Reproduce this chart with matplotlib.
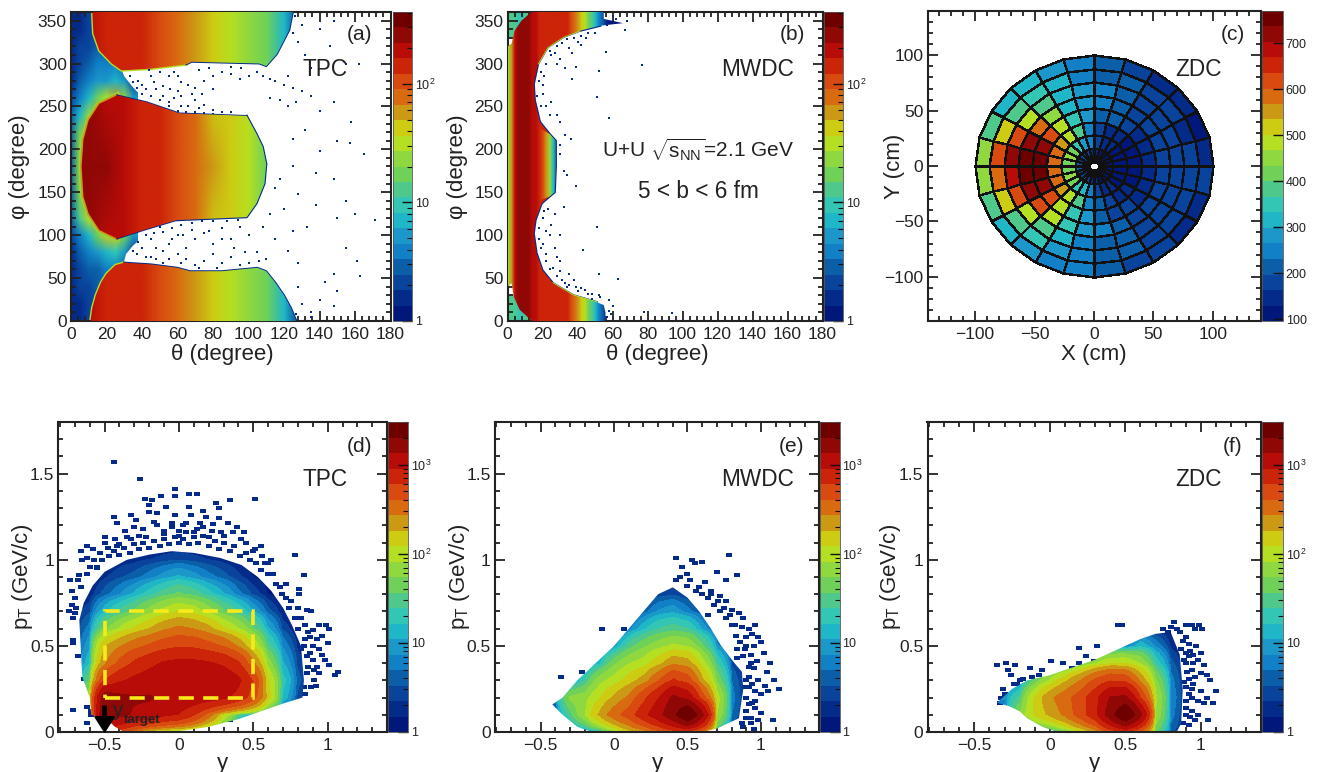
import numpy as np
import matplotlib
matplotlib.use("Agg")
import matplotlib.pyplot as plt
from matplotlib.colors import ListedColormap, LogNorm, Normalize
from matplotlib.patches import Polygon, Rectangle
from matplotlib.ticker import MultipleLocator, FuncFormatter, FixedLocator

plt.rcParams['font.family'] = ['Liberation Sans', 'DejaVu Sans']
plt.rcParams['mathtext.fontset'] = 'custom'
plt.rcParams['mathtext.rm'] = 'Liberation Sans'
plt.rcParams['mathtext.it'] = 'Liberation Sans:italic'
plt.rcParams['mathtext.bf'] = 'Liberation Sans:bold'
plt.rcParams['mathtext.default'] = 'regular'

W, H = 1317, 772

# palette, bottom to top of the colour bars
levels = ['#02177a', '#042a8a', '#0a439c', '#0b5fa8', '#1180c6', '#1b97c9', '#1fb6c8', '#33c6b4',
          '#4fc98b', '#6fd158', '#8fd83f', '#b5df22', '#cdcc12', '#cc9915', '#d86a10', '#d84a10',
          '#cc2408', '#b80c08', '#900806', '#6e0000']

# ---- panel (a) TPC theta-phi ----
a_theta = [0, 10, 20, 30, 40, 50, 60, 70, 80, 90, 100, 110, 120, 130]
a_mid_vals = [[240, 240, 215, 185, 150, 125, 100, 70, 48, 38, 30, 18, 5, 1],
              [265, 265, 230, 195, 155, 130, 100, 72, 50, 38, 30, 18, 5, 1],
              [240, 240, 215, 185, 150, 125, 100, 70, 48, 38, 30, 18, 5, 1]]
a_mid_phi = [96, 180, 264]
a_side_vals = [[170, 170, 160, 150, 130, 110, 88, 62, 46, 34, 27, 18, 7, 1.5],
               [170, 170, 160, 150, 130, 110, 88, 62, 46, 34, 27, 18, 7, 1.5]]
a_side_phi = [0, 360]
a_bot_th = [11, 12, 14, 17, 20, 25, 30, 45, 60, 67, 85, 105, 110, 115, 120, 124, 127]
a_bot_ph = [0, 15, 30, 45, 55, 65, 68, 66, 62, 58, 58, 62, 58, 45, 30, 15, 0]
a_top_th = [12, 12.6, 16, 23, 28.5, 45, 65, 68, 106, 110, 116, 123, 125]
a_top_ph = [360, 335, 315, 300, 292, 294, 299, 302, 300, 297, 311, 339, 360]
a_mid_th = [26, 16, 10, 7, 6, 7, 10, 16, 26, 41, 59.5, 99, 104.5, 109, 110, 108, 104.5, 99, 61, 42.6]
a_mid_ph = [263, 253, 234, 211, 180, 145, 125, 106, 96, 106, 117.5, 121, 137, 160, 183, 203, 218, 239, 242, 255]
a_halo_th = [0, 5, 10, 15, 20, 25, 30, 35]
a_halo_ph = list(range(0, 380, 20))
a_halo_vals = [[1.6, 1.8, 2, 2, 2, 2, 1, 1],
               [1.6, 1.8, 2, 2, 2, 2, 1, 1],
               [1.6, 2, 2.2, 2.5, 2.5, 2, 1.5, 1],
               [1.6, 2.2, 2.8, 3.2, 3.5, 3.5, 2.5, 1.2],
               [1.8, 2.6, 3.5, 5, 7, 9, 6, 2],
               [2, 4, 8, 18, 40, 40, 18, 5],
               [2.5, 12, 30, 50, 50, 50, 30, 6],
               [3, 18, 50, 50, 50, 50, 30, 6],
               [3, 25, 50, 50, 50, 50, 30, 6],
               [3.2, 25, 50, 50, 50, 50, 30, 6],
               [3, 22, 50, 50, 50, 50, 30, 6],
               [3, 16, 50, 50, 50, 50, 30, 6],
               [2.5, 8, 25, 50, 50, 50, 30, 6],
               [2, 4, 7, 15, 35, 60, 22, 5],
               [1.8, 2.6, 3.5, 5, 6, 8, 6, 2],
               [1.6, 2.2, 2.8, 3.5, 4, 3.5, 2.5, 1.2],
               [1.6, 2, 2.2, 2.5, 2.5, 2, 1.5, 1],
               [1.6, 1.8, 2, 2, 2, 2, 1, 1],
               [1.6, 1.8, 2, 2, 2, 2, 1, 1]]
a_halo_x = [0, 14, 20, 30, 31, 35, 43, 43, 35, 30, 28, 14, 0]
a_halo_y = [0, 0, 50, 70, 78, 88, 102, 255, 272, 285, 295, 360, 360]
a_dots = [(38, 280), (40, 275), (42, 270), (45, 285), (48, 270), (52, 262), (55, 255), (58, 260), (60, 268), (62, 250),
          (66, 250), (70, 258), (72, 248), (75, 252), (80, 246), (85, 244), (90, 243), (60, 285), (62, 278), (66, 275),
          (70, 272), (75, 280), (80, 285), (85, 290), (90, 288), (95, 282), (100, 285), (105, 290), (108, 285),
          (112, 282), (115, 280), (120, 275), (125, 272), (130, 268), (112, 260), (118, 257), (122, 250), (127, 255),
          (135, 262), (140, 245), (148, 255), (158, 232), (132, 222), (125, 212), (140, 198), (150, 210), (157, 207),
          (165, 195), (138, 173), (125, 180), (118, 165), (115, 155), (148, 165), (155, 140), (160, 125), (171, 118),
          (150, 120), (138, 135), (128, 148), (120, 130), (112, 125), (108, 110), (100, 100), (95, 110), (90, 95),
          (85, 108), (80, 90), (75, 103), (70, 95), (65, 85), (60, 100), (55, 90), (50, 110), (45, 95), (40, 85),
          (37, 78), (42, 75), (48, 72), (55, 72), (60, 78), (65, 72), (70, 65), (75, 70), (80, 78), (85, 68), (90, 75),
          (95, 65), (105, 80), (110, 72), (115, 95), (122, 82), (125, 105), (133, 110), (128, 68), (148, 55), (163, 53),
          (155, 85), (161, 70), (128, 40), (130, 20), (135, 10), (140, 25), (148, 18), (150, 35), (143, 45), (127, 8),
          (135, 5), (126, 355), (130, 345), (125, 335), (128, 325), (132, 310), (135, 295), (140, 340), (148, 350),
          (146, 320), (155, 300), (162, 300), (122, 285), (33, 285), (35, 278), (37, 272), (40, 265), (45, 262),
          (50, 258), (55, 250), (60, 245), (65, 244), (70, 243), (75, 242), (80, 241), (47, 278), (52, 274), (56, 270),
          (62, 262), (68, 264), (74, 265), (80, 270), (55, 285), (58, 290), (50, 290), (44, 292), (72, 292), (78, 295),
          (90, 296), (96, 295), (35, 82), (38, 92), (42, 100), (47, 102), (52, 104), (57, 108), (62, 112), (68, 114),
          (74, 116), (80, 116), (88, 117), (94, 118), (48, 85), (52, 82), (57, 95), (63, 100), (68, 106), (78, 105),
          (85, 95), (92, 85), (98, 80), (45, 75), (52, 68), (62, 68), (72, 62), (82, 62), (100, 68), (106, 70)]

# ---- panel (b) MWDC theta-phi ----
b_band_th = [0, 2, 4, 6, 8, 10, 12, 14, 16]
b_band_vals = [[14, 14, 12, 11, 11, 12, 14, 16, 18], [14, 14, 12, 11, 11, 12, 14, 16, 18]]
b_band_ph = [0, 360]
b_main_th = list(range(0, 70, 2))
b_main_row = [25, 55, 170, 225, 250, 260, 245, 215, 185, 160, 150, 140, 135, 130, 130, 130, 130, 125, 115, 85,
              60, 42, 28, 20, 12, 7, 4, 2.5, 1.5, 1.2, 1, 1, 1, 1, 1]
b_out_th = [14, 56, 56, 55, 51, 37.5, 26, 20, 16.6, 15, 16, 19.5, 24, 27, 27.6, 27.6, 24, 18.5, 15.6, 15, 17.5, 23,
            32, 41, 53, 66, 55, 55, 13.7, 8, 4, 2.3, 0, 0, 2.3, 3.6, 7]
b_out_ph = [0, 0, 10, 18.6, 22, 30, 44, 59, 79, 102, 117.5, 137, 145, 150, 180, 210, 218, 232, 257, 276, 300, 319,
            331, 338, 344, 347, 352, 360, 360, 350, 338, 323, 320, 40, 44, 28, 13]
b_notch_th = [16, 18, 20, 22, 24, 26, 28]
b_notch_vals = [[130, 130, 120, 60, 25, 8, 2], [130, 130, 120, 60, 25, 8, 2]]
b_notch_ph = [140, 225]
b_notch_x = [18, 24, 27, 27.6, 27.6, 24, 18]
b_notch_y = [140, 145, 150, 180, 210, 218, 225]
b_dots = [(77, 298), (52, 291), (51, 261), (58, 236), (37, 282), (39, 296), (30, 305), (33, 295), (28, 300), (25, 310),
          (28, 320), (35, 318), (40, 325), (45, 330), (37, 312), (42, 322), (50, 335), (57, 345), (67, 339), (56, 313),
          (20, 275), (18, 280), (20, 265), (22, 250), (25, 255), (24, 240), (28, 240), (30, 232), (33, 217), (36, 212),
          (30, 205), (32, 175), (34, 170), (30, 195), (39, 157), (32, 133), (23, 130), (20, 120), (24, 100), (22, 105),
          (27, 125), (25, 112), (43, 83), (51, 110), (30, 100), (20, 90), (22, 78), (28, 75), (26, 62), (30, 58),
          (35, 55), (38, 48), (34, 40), (42, 38), (46, 32), (52, 30), (58, 25), (40, 35), (52, 55), (63, 49), (78, 10),
          (94, 9), (60, 18), (58, 12), (59, 8), (57, 5), (60, 355), (62, 352), (68, 349), (30, 70), (27, 85), (35, 30),
          (33, 44), (44, 24), (48, 26), (24, 315), (27, 312), (31, 324), (34, 328), (38, 330), (42, 332), (46, 336),
          (22, 300), (19, 290), (21, 285), (17, 262), (19, 250), (22, 70), (24, 60), (28, 52), (31, 48), (35, 42),
          (39, 40), (44, 36), (48, 31), (53, 28), (19, 85), (18, 95), (18, 108), (21, 128)]

# ---- panel (c) ZDC modules: rows are rings from inside, columns are 15 degree sectors ----
c_radius = [4, 16, 28, 40, 52, 64, 76, 88, 100]
c_sector = list(range(0, 375, 15))
c_ring0 = [105, 105, 110, 115, 125, 140, 160, 180, 190, 190, 195, 200, 200, 195, 190, 190, 180, 150, 130, 115, 110, 105, 105, 105]
c_ring1 = [110, 110, 120, 130, 150, 180, 250, 290, 350, 430, 440, 420, 430, 440, 425, 360, 300, 260, 180, 150, 130, 115, 110, 110]
c_ring2 = [120, 120, 125, 140, 160, 190, 250, 390, 470, 545, 580, 600, 600, 590, 555, 480, 380, 260, 200, 170, 150, 130, 120, 120]
c_ring3 = [150, 135, 145, 165, 200, 225, 265, 345, 500, 610, 730, 745, 745, 720, 610, 480, 350, 265, 225, 195, 170, 150, 135, 150]
c_ring4 = [180, 170, 175, 185, 215, 240, 275, 330, 440, 590, 715, 750, 750, 715, 610, 470, 340, 270, 240, 205, 190, 175, 165, 180]
c_ring5 = [195, 180, 180, 190, 220, 245, 265, 325, 375, 480, 610, 720, 690, 610, 500, 370, 300, 255, 225, 200, 185, 175, 170, 195]
c_ring6 = [190, 160, 170, 190, 200, 230, 250, 300, 345, 390, 510, 605, 600, 520, 395, 340, 290, 255, 225, 200, 180, 170, 165, 185]
c_ring7 = [140, 125, 140, 150, 190, 210, 240, 265, 310, 320, 385, 440, 440, 385, 320, 280, 255, 235, 205, 195, 170, 155, 135, 165]

# ---- panel (d) TPC y-pT ----
d_y = [round(-0.7 + 0.1 * i, 1) for i in range(18)]
d_pt = [0.0, 0.1, 0.2, 0.3, 0.4, 0.5, 0.6, 0.7, 0.8, 0.9, 1.0, 1.1]
d_vals = [[1, 1, 800, 500, 300, 120, 60, 30, 10, 4, 2, 1, 1, 1, 1, 1, 1, 1],
          [1, 1, 2000, 1500, 1300, 1200, 1000, 900, 650, 350, 120, 30, 4, 1, 1, 1, 1, 1],
          [2, 80, 1700, 1500, 1400, 1400, 1300, 1200, 1150, 1100, 1000, 800, 500, 150, 15, 3, 1, 1],
          [1, 40, 600, 850, 1000, 1100, 1200, 1200, 1200, 1200, 1200, 1000, 600, 130, 20, 4, 1.5, 1],
          [2, 15, 250, 450, 650, 800, 950, 1000, 1000, 950, 850, 650, 300, 70, 12, 3, 1.3, 1],
          [2, 10, 170, 260, 350, 430, 520, 580, 560, 480, 400, 260, 120, 30, 7, 2, 1, 1],
          [2, 6, 45, 85, 130, 180, 250, 300, 270, 210, 130, 85, 40, 12, 3, 1.3, 1, 1],
          [1.5, 3, 14, 26, 40, 65, 95, 120, 105, 70, 40, 24, 11, 4, 1.5, 1, 1, 1],
          [1.2, 1.5, 4, 7, 12, 20, 30, 40, 32, 20, 12, 6, 3, 1.5, 1, 1, 1, 1],
          [1, 1, 2, 3, 4, 6, 9, 12, 9, 6, 4, 2.5, 1.5, 1, 1, 1, 1, 1],
          [1, 1, 1, 1.5, 1.8, 2.2, 2.6, 3, 2.6, 2.2, 1.8, 1.4, 1, 1, 1, 1, 1, 1],
          [1, 1, 1, 1, 1, 1.2, 1.2, 1.2, 1.2, 1.2, 1, 1, 1, 1, 1, 1, 1, 1]]
d_out_y = [-0.37, -0.2, 0.0, 0.2, 0.4, 0.55, 0.7, 0.83, 0.84, 0.82, 0.76, 0.7, 0.62, 0.53, 0.42, 0.28, 0.1, -0.05, -0.2,
           -0.35, -0.5, -0.58, -0.64, -0.67, -0.66, -0.65, -0.6, -0.59, -0.48, -0.43]
d_out_pt = [0, 0.0, 0.005, 0.03, 0.075, 0.12, 0.165, 0.2, 0.3, 0.5, 0.62, 0.72, 0.82, 0.9, 0.97, 1.01, 1.04, 1.05,
            1.03, 1.0, 0.93, 0.85, 0.75, 0.65, 0.48, 0.32, 0.2, 0.1, 0.07, 0.03]
d_cells = [(-0.44, 1.57), (-0.26, 1.47), (-0.03, 1.41), (-0.03, 1.37), (0.07, 1.38), (0.12, 1.38), (0.51, 1.355),
           (-0.23, 1.355), (-0.18, 1.345), (-0.12, 1.37), (0.25, 1.33), (0.34, 1.345), (0.27, 1.3), (0.07, 1.305),
           (0.16, 1.285), (-0.2, 1.32), (-0.09, 1.305), (-0.2, 1.275), (-0.15, 1.27), (-0.03, 1.26), (0.08, 1.26),
           (0.18, 1.25), (0.27, 1.24), (-0.44, 1.25), (-0.32, 1.26), (-0.29, 1.23), (-0.42, 1.215), (-0.17, 1.22),
           (-0.05, 1.215), (0.05, 1.215), (0.14, 1.215), (0.23, 1.21), (0.33, 1.215), (0.39, 1.19), (-0.3, 1.19),
           (-0.36, 1.17), (-0.24, 1.18), (-0.15, 1.2), (0.36, 1.16), (0.44, 1.16), (0.78, 1.03), (0.84, 0.91),
           (0.81, 0.83), (0.81, 0.8), (0.72, 0.86), (0.68, 0.84), (0.63, 0.92), (0.6, 0.98), (0.56, 1.02),
           (0.51, 1.06), (0.45, 1.1), (0.89, 0.7), (0.86, 0.71), (0.8, 0.72), (0.75, 0.76), (0.94, 0.62), (0.99, 0.62),
           (1.01, 0.6), (0.9, 0.59), (0.96, 0.56), (1.0, 0.515), (0.94, 0.48), (0.98, 0.42), (1.01, 0.39), (1.05, 0.33),
           (1.07, 0.35), (0.94, 0.34), (0.91, 0.3), (0.89, 0.26), (0.92, 0.27), (0.84, 0.26), (0.85, 0.22), (0.87, 0.38),
           (0.86, 0.44), (0.82, 0.48), (0.85, 0.54), (0.88, 0.55), (-0.73, 0.88), (-0.72, 0.82), (-0.74, 0.7),
           (-0.7, 0.69), (-0.71, 0.66), (-0.67, 0.91), (-0.62, 1.08), (-0.58, 1.06), (-0.66, 1.05), (-0.62, 1.01),
           (-0.65, 1.0), (-0.55, 0.96), (-0.5, 1.13), (-0.5, 1.1), (-0.43, 1.12), (-0.42, 1.08), (-0.71, 0.535),
           (-0.71, 0.515), (-0.68, 0.44), (-0.64, 0.31), (-0.71, 0.13), (-0.62, 0.147), (-0.62, 0.055), (-0.59, 0.12),
           (-0.59, 0.1), (0.18, 0.045), (0.34, 0.07), (-0.1, 1.15), (0.0, 1.14), (0.1, 1.16), (0.2, 1.13), (0.3, 1.14),
           (0.42, 1.12), (0.55, 1.08), (0.62, 1.0), (-0.05, 1.19), (0.03, 1.2), (0.12, 1.18), (0.22, 1.17),
           (-0.22, 1.13), (-0.32, 1.12), (-0.4, 1.09), (0.5, 1.05), (0.58, 0.98), (-0.55, 0.95), (-0.52, 1.0), (-0.47, 1.02),
           (-0.44, 1.05), (-0.4, 1.03), (-0.37, 1.07), (-0.33, 1.04), (-0.3, 1.09), (-0.27, 1.06), (-0.24, 1.1),
           (-0.2, 1.07), (-0.17, 1.11), (-0.13, 1.08), (-0.1, 1.12), (-0.07, 1.09), (-0.03, 1.13), (0.0, 1.1), (0.03, 1.12),
           (0.07, 1.09), (0.1, 1.13), (0.13, 1.1), (0.16, 1.14), (0.2, 1.08), (0.24, 1.11), (0.27, 1.06), (0.3, 1.1),
           (0.34, 1.05), (0.37, 1.08), (0.41, 1.02), (0.45, 1.04), (0.48, 1.0), (0.52, 0.98), (0.55, 0.94), (0.6, 0.92),
           (0.65, 0.86), (0.69, 0.8), (0.72, 0.78), (0.74, 0.72), (0.78, 0.66), (0.82, 0.66), (0.8, 0.6), (0.85, 0.62),
           (0.87, 0.58), (0.84, 0.5), (0.88, 0.46), (0.9, 0.5), (0.93, 0.54), (0.9, 0.42), (0.86, 0.34), (0.93, 0.38),
           (0.96, 0.45), (0.91, 0.36), (-0.62, 0.92), (-0.66, 0.84), (-0.68, 0.88), (-0.7, 0.78), (-0.72, 0.74),
           (-0.69, 0.72), (-0.6, 0.96), (-0.57, 1.0), (-0.53, 1.04), (-0.48, 1.07), (-0.1, 1.17), (0.0, 1.17), (0.05, 1.16),
           (0.16, 1.19), (0.28, 1.16), (-0.27, 1.14), (-0.35, 1.13)]

# ---- panel (e) MWDC y-pT ----
e_y = [round(-0.4 + 0.1 * i, 1) for i in range(15)]
e_pt = [0.0, 0.1, 0.2, 0.3, 0.4, 0.5, 0.6, 0.7, 0.8, 0.9]
e_vals = [[1, 1, 2, 10, 60, 150, 220, 350, 500, 500, 300, 20, 2, 1, 1],
          [3, 30, 80, 200, 350, 500, 800, 1200, 1800, 3000, 1500, 80, 5, 1.2, 1],
          [5, 60, 70, 120, 200, 300, 550, 900, 1500, 1200, 500, 100, 6, 1.4, 1.2],
          [1, 2, 25, 70, 100, 150, 220, 400, 650, 500, 200, 50, 5, 1.2, 1],
          [1, 1, 2, 15, 50, 80, 100, 160, 250, 220, 100, 25, 3, 1.1, 1],
          [1, 1, 1, 1, 8, 30, 50, 70, 90, 80, 40, 8, 1.5, 1, 1],
          [1, 1, 1, 1, 1, 6, 15, 25, 30, 25, 10, 3, 1.2, 1, 1],
          [1, 1, 1, 1, 1, 1, 4, 8, 10, 6, 3, 1.2, 1, 1, 1],
          [1, 1, 1, 1, 1, 1, 1, 2.5, 3, 2, 1.2, 1, 1, 1, 1],
          [1, 1, 1, 1, 1, 1, 1, 1, 1, 1, 1, 1, 1, 1, 1]]
e_out_y = [-0.42, -0.35, -0.25, -0.1, 0, 0.1, 0.2, 0.3, 0.4, 0.5, 0.58, 0.66, 0.73, 0.82, 0.87, 0.88, 0.85, 0.7, 0.6, -0.15, -0.25, -0.35]
e_out_pt = [0.16, 0.2, 0.3, 0.42, 0.5, 0.6, 0.7, 0.8, 0.84, 0.78, 0.7, 0.6, 0.5, 0.4, 0.35, 0.25, 0.08, 0.02, 0.0, 0.0, 0.03, 0.1]
e_cells = [(-0.36, 0.32), (-0.22, 0.35), (-0.08, 0.6), (0.07, 0.6), (-0.16, 0.3), (-0.28, 0.2), (0.42, 1.01), (0.53, 1.0),
           (0.55, 0.98), (0.6, 0.99), (0.46, 0.96), (0.5, 0.92), (0.45, 0.9), (0.52, 0.88), (0.62, 0.87), (0.78, 1.03),
           (0.84, 0.91), (0.42, 0.88), (0.5, 0.85), (0.58, 0.84), (0.66, 0.82), (0.72, 0.79), (0.76, 0.76), (0.75, 0.72),
           (0.8, 0.71), (0.85, 0.69), (0.88, 0.66), (0.82, 0.62), (0.87, 0.61), (0.92, 0.6), (0.96, 0.62), (0.94, 0.57),
           (0.98, 0.55), (1.0, 0.52), (0.9, 0.55), (0.95, 0.5), (1.02, 0.46), (0.93, 0.45), (0.97, 0.41), (1.06, 0.4),
           (1.04, 0.35), (1.09, 0.3), (1.12, 0.25), (1.05, 0.24), (0.95, 0.37), (0.92, 0.32), (0.98, 0.3), (1.03, 0.27),
           (1.0, 0.22), (0.9, 0.2), (0.94, 0.17), (0.96, 0.14), (1.0, 0.11), (0.98, 0.07), (1.08, 0.07),
           (0.93, 0.08), (0.9, 0.12), (0.87, 0.05), (0.95, 0.02), (0.89, 0.48), (0.84, 0.43), (0.92, 0.38),
           (0.7, 0.93), (0.76, 0.88), (0.64, 0.68), (0.56, 0.54), (0.8, 0.62), (0.76, 0.66), (0.72, 0.7), (0.68, 0.74),
           (0.64, 0.78), (0.6, 0.8), (0.56, 0.82), (0.66, 0.8), (0.71, 0.76), (0.79, 0.68), (0.83, 0.56), (0.86, 0.52),
           (0.84, 0.48), (0.88, 0.44), (0.9, 0.5), (0.93, 0.4), (0.9, 0.3), (0.94, 0.28),
           (0.9, 0.26), (0.92, 0.26), (0.96, 0.24), (0.92, 0.16), (0.96, 0.18),
           (0.9, 0.08), (0.93, 0.05), (0.88, 0.03)]

# ---- panel (f) ZDC y-pT ----
f_y = [round(-0.3 + 0.1 * i, 1) for i in range(14)]
f_pt = [0.0, 0.1, 0.2, 0.3, 0.4, 0.5, 0.6]
f_vals = [[1, 1, 2, 5, 40, 100, 200, 450, 600, 350, 40, 4, 1.2, 1],
          [3, 60, 130, 200, 300, 500, 800, 1700, 3000, 1500, 80, 6, 1.4, 1],
          [8, 30, 130, 250, 350, 500, 800, 1400, 1500, 600, 90, 7, 1.5, 1],
          [1, 3, 40, 90, 170, 280, 450, 600, 550, 250, 60, 6, 1.3, 1],
          [1, 1, 1, 2, 5, 40, 80, 120, 120, 80, 22, 4, 1.2, 1],
          [1, 1, 1, 1, 1, 1, 1, 1.5, 5, 15, 7, 2, 1, 1],
          [1, 1, 1, 1, 1, 1, 1, 1, 1, 1, 1.2, 1.2, 1, 1]]
f_out_y = [-0.35, -0.25, -0.15, 0, 0.1, 0.2, 0.3, 0.4, 0.5, 0.6, 0.7, 0.8, 0.86, 0.88, 0.87, 0.84, 0.05, -0.05, -0.15, -0.2, -0.27]
f_out_pt = [0.17, 0.25, 0.3, 0.33, 0.36, 0.39, 0.42, 0.46, 0.5, 0.54, 0.57, 0.58, 0.45, 0.25, 0.05, 0.0, 0.0, 0.03, 0.08, 0.12, 0.15]
f_cells = [(-0.35, 0.39), (-0.29, 0.4), (-0.23, 0.39), (-0.28, 0.36), (-0.26, 0.33), (-0.13, 0.37), (-0.05, 0.36), (-0.07, 0.33),
           (0.01, 0.41), (0.09, 0.4), (0.15, 0.37), (0.19, 0.4), (0.24, 0.44), (0.29, 0.41), (0.19, 0.49), (0.31, 0.5),
           (0.45, 0.62), (0.48, 0.62), (0.82, 0.64), (0.78, 0.58), (0.84, 0.6), (0.9, 0.62), (0.94, 0.62), (0.99, 0.62),
           (1.01, 0.6), (0.96, 0.6), (0.88, 0.53), (0.92, 0.51), (0.97, 0.5), (1.0, 0.46), (0.95, 0.45),
           (0.98, 0.42), (1.02, 0.39), (0.9, 0.4), (0.94, 0.36), (1.0, 0.34), (1.04, 0.33), (1.06, 0.3), (1.1, 0.24),
           (1.0, 0.24), (1.04, 0.2), (0.95, 0.28), (0.92, 0.22), (0.98, 0.18), (1.02, 0.17), (1.08, 0.17), (0.9, 0.14),
           (0.94, 0.12), (0.96, 0.07), (1.05, 0.07), (0.92, 0.04), (-0.33, 0.17), (-0.31, 0.25),
           (-0.24, 0.28), (-0.2, 0.3), (0.87, 0.48), (0.9, 0.46), (0.93, 0.47), (0.89, 0.42),
           (0.92, 0.44), (0.95, 0.4), (0.91, 0.35), (0.89, 0.29), (0.92, 0.31), (0.96, 0.32),
           (0.9, 0.26), (0.94, 0.25), (0.9, 0.18), (0.94, 0.2), (0.9, 0.1),
           (0.93, 0.09), (0.98, 0.1), (0.88, 0.05), (0.75, 0.6), (0.8, 0.61), (0.86, 0.58), (0.9, 0.55), (-0.32, 0.2),
           (-0.28, 0.2), (-0.3, 0.22), (-0.22, 0.28), (-0.18, 0.31), (-0.12, 0.32)]

# ---- rectangle and labels of the pT-y acceptance ----
box_y = [-0.5, 0.5]
box_pt = [0.2, 0.7]


def make_axes(fig, x0, y0, x1, y1):
    return fig.add_axes([x0 / W, 1 - y1 / H, (x1 - x0) / W, (y1 - y0) / H])


def ptext(fig, x, y, s, size=15, **kw):
    fig.text(x / W, 1 - y / H, s, fontsize=size, ha='center', va='center', color='#222222', **kw)


def region(ax, xn, yn, table, outline, cmap, norm, z=1, stage='data'):
    # table values at the nodes, drawn only inside outline
    dx = xn[1] - xn[0]
    dy = yn[1] - yn[0]
    ext = [xn[0] - dx / 2, xn[-1] + dx / 2, yn[0] - dy / 2, yn[-1] + dy / 2]
    im = ax.imshow(np.array(table, float), origin='lower', extent=ext, aspect='auto', cmap=cmap, norm=norm,
                   interpolation='bilinear', interpolation_stage=stage, zorder=z)
    im.set_clip_path(Polygon(np.column_stack(outline), transform=ax.transData))
    return im


def style(ax, major_x, minor_x, major_y, minor_y):
    ax.xaxis.set_major_locator(MultipleLocator(major_x))
    ax.xaxis.set_minor_locator(MultipleLocator(minor_x))
    ax.yaxis.set_major_locator(MultipleLocator(major_y))
    ax.yaxis.set_minor_locator(MultipleLocator(minor_y))
    fmt = FuncFormatter(lambda v, p: ('%g' % round(v, 3)).replace('-', '\u2212'))
    ax.xaxis.set_major_formatter(fmt)
    ax.yaxis.set_major_formatter(fmt)
    ax.tick_params(which='major', direction='in', top=True, right=True, length=7.5, width=1.3,
                   labelsize=12.5, color='#222222', labelcolor='#222222', pad=3)
    ax.tick_params(axis='x', which='major', pad=4.5)
    ax.tick_params(which='minor', direction='in', top=True, right=True, length=3.8, width=1.3, color='#222222')
    for sp in ax.spines.values():
        sp.set_linewidth(1.5)
        sp.set_color('#222222')


def labels(ax, box, xl, yl, ylab_px, xlab_px):
    x0, y0, x1, y1 = box
    ax.set_xlabel(xl, fontsize=16, color='#222222')
    ax.set_ylabel(yl, fontsize=16, color='#222222')
    ax.yaxis.set_label_coords((ylab_px - x0) / (x1 - x0), 0.5)
    ax.xaxis.set_label_coords(0.5 - 8 / (x1 - x0) if xl.startswith('\u03b8') else 0.5, -(xlab_px - y1) / (y1 - y0))


def colorbar(fig, ax_im, box, norm, log=True):
    cax = make_axes(fig, *box)
    cb = fig.colorbar(ax_im, cax=cax)
    cb.outline.set_linewidth(0.6)
    cb.outline.set_edgecolor('#555555')
    if log:
        ticks = [1, 10, 100, 1000]
        names = ['1', '10', r'$10^{2}$', r'$10^{3}$']
        keep = [i for i, t in enumerate(ticks) if t <= norm.vmax]
        cax.yaxis.set_major_locator(FixedLocator([ticks[i] for i in keep]))
        cax.set_yticklabels([names[i] for i in keep])
        cax.yaxis.set_minor_locator(FixedLocator([m * 10 ** e for e in range(0, 4) for m in range(2, 10)
                                                  if m * 10 ** e <= norm.vmax]))
        cax.yaxis.set_minor_formatter(FuncFormatter(lambda v, p: ''))
    else:
        cax.yaxis.set_major_locator(MultipleLocator(100))
        cax.yaxis.set_minor_locator(plt.NullLocator())
    cax.tick_params(which='major', direction='in', right=True, length=7, width=1, labelsize=9, pad=2,
                    color='#111111', labelcolor='#222222')
    cax.tick_params(which='minor', direction='in', right=True, length=3.5, width=0.8, color='#111111')
    return cb


def dots(ax, pts, **kw):
    xs = [p[0] for p in pts]
    ys = [p[1] for p in pts]
    ax.scatter(xs, ys, color=navy, linewidths=0, **kw)


cmap = ListedColormap(levels)
fig = plt.figure(figsize=(W / 100, H / 100), dpi=100)
navy = levels[1]

# ---- (a) ----
box_a = (71, 12, 390.5, 321)
norm_a = LogNorm(1, 405)
ax = make_axes(fig, *box_a)
halo = region(ax, a_halo_th, a_halo_ph, a_halo_vals, (a_halo_x, a_halo_y), cmap, norm_a, 1, 'rgba')
for lw, v in [(4.5, 25), (2.5, 50)]:
    ax.plot(a_mid_th[:9], a_mid_ph[:9], color=cmap(norm_a(v)), lw=lw, zorder=2)
ax.plot(a_mid_th[8:11], a_mid_ph[8:11], color=navy, lw=1.2, zorder=2)
ax.plot(a_mid_th[10:18], a_mid_ph[10:18], color=navy, lw=1.6, zorder=2)
ax.plot(a_mid_th[17:] + a_mid_th[:1], a_mid_ph[17:] + a_mid_ph[:1], color=navy, lw=1.2, zorder=2)
for xs, ys in [(a_bot_th, a_bot_ph), (a_top_th, a_top_ph)]:
    ax.plot(xs[:7], ys[:7], color=cmap(norm_a(30)), lw=2, zorder=2)
    ax.plot(xs[6:], ys[6:], color=navy, lw=1.4, zorder=2)
region(ax, a_theta, a_side_phi, a_side_vals, (a_bot_th, a_bot_ph), cmap, norm_a, 3, 'rgba')
region(ax, a_theta, a_side_phi, a_side_vals, (a_top_th, a_top_ph), cmap, norm_a, 3, 'rgba')
im_a = region(ax, a_theta, a_mid_phi, a_mid_vals, (a_mid_th, a_mid_ph), cmap, norm_a, 3, 'rgba')
dots(ax, a_dots, s=3, marker='s', zorder=2)
ax.set_xlim(0, 180)
ax.set_ylim(0, 360)
style(ax, 20, 4, 50, 10)
labels(ax, box_a, '\u03b8 (degree)', '\u03c6 (degree)', 30, 344)
colorbar(fig, im_a, (392.5, 12, 412, 321), norm_a)

# ---- (b) ----
box_b = (507.5, 12, 822.5, 321)
ax = make_axes(fig, *box_b)
region(ax, b_band_th, b_band_ph, b_band_vals, ([0, 16, 16, 0], [0, 0, 30, 30]), cmap, norm_a, 1, 'rgba')
region(ax, b_band_th, b_band_ph, b_band_vals, ([0, 16, 16, 0], [330, 330, 360, 360]), cmap, norm_a, 1, 'rgba')
ax.plot(b_out_th[4:25], b_out_ph[4:25], color=navy, lw=1.6, zorder=2)
ax.plot(b_out_th[4:7], b_out_ph[4:7], color=cmap(norm_a(30)), lw=1.2, zorder=2)
ax.plot(b_out_th[20:24], b_out_ph[20:24], color=cmap(norm_a(30)), lw=1.2, zorder=2)
im_b = region(ax, b_main_th, [0, 360], [b_main_row, b_main_row], (b_out_th, b_out_ph), cmap, norm_a, 3, 'rgba')
region(ax, b_notch_th, b_notch_ph, b_notch_vals, (b_notch_x, b_notch_y), cmap, norm_a, 4, 'rgba')
dots(ax, b_dots, s=3, marker='s', zorder=2)
ax.set_xlim(0, 180)
ax.set_ylim(0, 360)
style(ax, 20, 4, 50, 10)
labels(ax, box_b, '\u03b8 (degree)', '\u03c6 (degree)', 468, 344)
colorbar(fig, im_b, (824, 12, 843, 321), norm_a)

# ---- (c) ----
box_c = (927.5, 11, 1260.5, 321)
norm_c = Normalize(96, 770)
ax = make_axes(fig, *box_c)
c_vals = np.array([c_ring0, c_ring1, c_ring2, c_ring3, c_ring4, c_ring5, c_ring6, c_ring7], float)
ang = np.radians(c_sector)
X = np.outer(c_radius, np.cos(ang))
Y = np.outer(c_radius, np.sin(ang))
im_c = ax.pcolormesh(X, Y, c_vals, cmap=cmap, norm=norm_c, edgecolors='#111111', linewidth=1.0)
ax.set_xlim(-140, 140)
ax.set_ylim(-140, 140)
style(ax, 50, 10, 50, 10)
labels(ax, box_c, 'X (cm)', 'Y (cm)', 905, 344)
colorbar(fig, im_c, (1262, 11, 1283, 321), norm_c, log=False)

# ---- (d), (e), (f) ----
norm_p = LogNorm(1, 3000)
panels = [((58.5, 422, 386.5, 732), (388, 422, 408, 732), d_y, d_pt, d_vals, (d_out_y, d_out_pt), d_cells, 35),
          ((495, 422, 819, 732), (820, 422, 839.5, 732), e_y, e_pt, e_vals, (e_out_y, e_out_pt), e_cells, 472),
          ((927.5, 422, 1260.5, 732), (1262, 422, 1283, 732), f_y, f_pt, f_vals, (f_out_y, f_out_pt), f_cells, 903)]
for box, cbox, ys, pts, vals, out, cells, ylab in panels:
    ax = make_axes(fig, *box)
    im = region(ax, ys, pts, vals, out, cmap, norm_p, 2)
    dots(ax, cells, s=20, marker=[(-1, -0.65), (1, -0.65), (1, 0.65), (-1, 0.65)], zorder=1)
    ax.set_xlim(-0.81, 1.395)
    ax.set_ylim(0, 1.8)
    style(ax, 0.5, 0.1, 0.5, 0.1)
    labels(ax, box, 'y', r'p$_{T}$ (GeV/c)', ylab, 753)
    colorbar(fig, im, cbox, norm_p)
    if box[0] < 100:
        ax.add_patch(Rectangle((box_y[0], box_pt[0]), box_y[1] - box_y[0], box_pt[1] - box_pt[0], fill=False,
                               ec='#f7ea1a', lw=2.6, ls=(0, (4.2, 2.6)), zorder=5))
        ax.annotate('', xy=(box_y[0], 0), xytext=(box_y[0], 0.15), zorder=6,
                    arrowprops=dict(facecolor='black', edgecolor='black', width=2.5, headwidth=14, headlength=11, shrink=0))

# ---- text on the panels ----
for x, y, s in [(360, 35, '(a)'), (792, 35, '(b)'), (1233, 35, '(c)'), (359, 446, '(d)'), (792, 446, '(e)'), (1233, 446, '(f)'),
                (698, 150, r'U+U $\sqrt{s_{NN}}$=2.1 GeV')]:
    ptext(fig, x, y, s)
for x, y, s in [(325, 69, 'TPC'), (758, 69, 'MWDC'), (1198, 69, 'ZDC'), (325, 480, 'TPC'), (758, 480, 'MWDC'), (1198, 480, 'ZDC'),
                (698, 192, '5 < b < 6 fm')]:
    ptext(fig, x, y, s, size=16.3)
ptext(fig, 117, 711, 'y')
ptext(fig, 142, 720, 'target', size=9.5, fontweight='bold')

fig.savefig('out.png', dpi=100, facecolor='white')
